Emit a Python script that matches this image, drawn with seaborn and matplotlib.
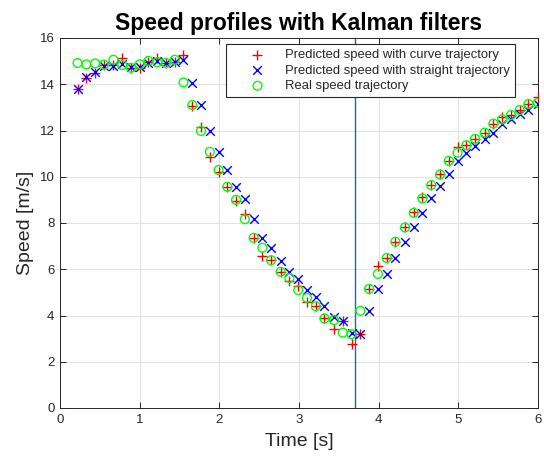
import numpy as np
import pandas as pd
import matplotlib
matplotlib.use("Agg")
import matplotlib.pyplot as plt
import seaborn as sns

time_s = [0.22, 0.33, 0.44, 0.55, 0.67, 0.78, 0.89, 1.00, 1.11, 1.22, 1.33, 1.44, 1.55,
          1.66, 1.77, 1.88, 1.99, 2.10, 2.21, 2.32, 2.43, 2.54, 2.65, 2.77, 2.88,
          2.99, 3.10, 3.21, 3.32, 3.44, 3.55, 3.66, 3.77, 3.88, 3.99, 4.10, 4.21,
          4.33, 4.44, 4.55, 4.66, 4.77, 4.88, 4.99, 5.10, 5.21, 5.33, 5.44, 5.55,
          5.66, 5.77, 5.88, 6.00]

curve_pred = [13.78, 14.26, 14.50, 14.84, 14.84, 15.13, 14.69, 14.69, 14.98, 15.13, 14.92, 14.95, 15.25,
              13.06, 12.14, 10.84, 10.22, 9.54, 8.94, 8.38, 7.36, 6.57, 6.39, 5.89, 5.50,
              5.28, 4.60, 4.40, 3.91, 3.42, 3.78, 2.75, 3.22, 5.15, 6.12, 6.50, 7.19,
              7.84, 8.46, 9.12, 9.64, 10.12, 10.70, 11.28, 11.37, 11.64, 11.91, 12.30, 12.60,
              12.67, 12.90, 13.15, 13.46]

straight_pred = [13.78, 14.33, 14.55, 14.77, 14.77, 14.88, 14.74, 14.76, 14.92, 15.00, 14.90, 14.95, 15.05,
                 14.07, 13.10, 11.98, 11.08, 10.29, 9.57, 9.02, 8.16, 7.36, 6.90, 6.36, 5.89,
                 5.60, 5.10, 4.78, 4.40, 3.94, 3.75, 3.26, 3.22, 4.20, 5.15, 5.79, 6.49,
                 7.19, 7.81, 8.44, 9.06, 9.62, 10.10, 10.69, 11.04, 11.35, 11.64, 11.91, 12.28,
                 12.48, 12.70, 12.89, 13.15]

real_speed = [14.92, 14.86, 14.90, 14.85, 15.06, 14.83, 14.71, 14.86, 15.01, 14.95, 14.92, 15.06, 14.08,
              13.10, 11.98, 11.08, 10.29, 9.57, 9.00, 8.16, 7.36, 6.93, 6.39, 5.89, 5.62,
              5.10, 4.76, 4.40, 3.87, 3.80, 3.26, 3.19, 4.20, 5.15, 5.80, 6.49, 7.19,
              7.81, 8.44, 9.06, 9.64, 10.10, 10.69, 11.04, 11.36, 11.64, 11.91, 12.30, 12.48,
              12.67, 12.89, 13.15, 13.20]

event_time = 3.7

title = "Speed profiles with Kalman filters"
xlabel = "Time [s]"
ylabel = "Speed [m/s]"
labels = ["Predicted speed with curve trajectory",
          "Predicted speed with straight trajectory",
          "Real speed trajectory"]

sns.set_theme(style="white")
plt.rcParams['font.family'] = ['Liberation Sans', 'DejaVu Sans']

df = pd.DataFrame({"t": time_s, "curve": curve_pred, "straight": straight_pred, "real": real_speed})

fig = plt.figure(figsize=(5.44, 4.59), dpi=100)
ax = fig.add_axes([60/544, 1 - 408/459, 478/544, 370/459])

dark = "#262626"
sns.scatterplot(data=df, x="t", y="curve", marker="+", s=60, color="#ff0000",
                linewidth=1.0, ax=ax, label=labels[0], zorder=3)
sns.scatterplot(data=df, x="t", y="straight", marker="x", s=38, color="#0000ff",
                linewidth=1.0, ax=ax, label=labels[1], zorder=3)
sns.scatterplot(data=df, x="t", y="real", marker="o", s=40, color="#00ff00",
                linewidth=1.0, ax=ax, label=labels[2], zorder=3)
coll = ax.collections[-1]
coll.set_facecolor("none")
coll.set_edgecolor("#00ff00")

ax.axvline(event_time, color="#0072BD", linewidth=1.0, zorder=2)

ax.set_xlim(0, 6)
ax.set_ylim(0, 16)
ax.set_xticks(range(0, 7))
ax.set_yticks(range(0, 17, 2))
ax.grid(True, color="#e3e3e3", linewidth=0.8)
ax.set_axisbelow(True)
for sp in ax.spines.values():
    sp.set_color(dark)
    sp.set_linewidth(0.7)
    sp.set_visible(True)
ax.tick_params(direction="in", length=4, width=0.7, colors=dark, labelsize=9.5,
               top=True, right=True, bottom=True, left=True, pad=4)
ax.set_xlabel(xlabel, fontsize=14, color=dark, labelpad=5)
ax.set_ylabel(ylabel, fontsize=14, color=dark, labelpad=4)
ax.set_title(title, fontsize=16.5, fontweight="bold", color="black", pad=6)

leg = ax.legend(loc="upper right", bbox_to_anchor=(455/478, (408-44)/370), fontsize=9.4,
                frameon=True, fancybox=False, edgecolor=dark, framealpha=1,
                borderpad=0.4, labelspacing=0.25, handletextpad=0.1, handlelength=4.0,
                borderaxespad=0)
leg.get_frame().set_linewidth(0.8)
for h in leg.legend_handles[2:]:
    h.set_facecolor("none")
    h.set_edgecolor("#00ff00")

fig.savefig("out.png", dpi=100)
